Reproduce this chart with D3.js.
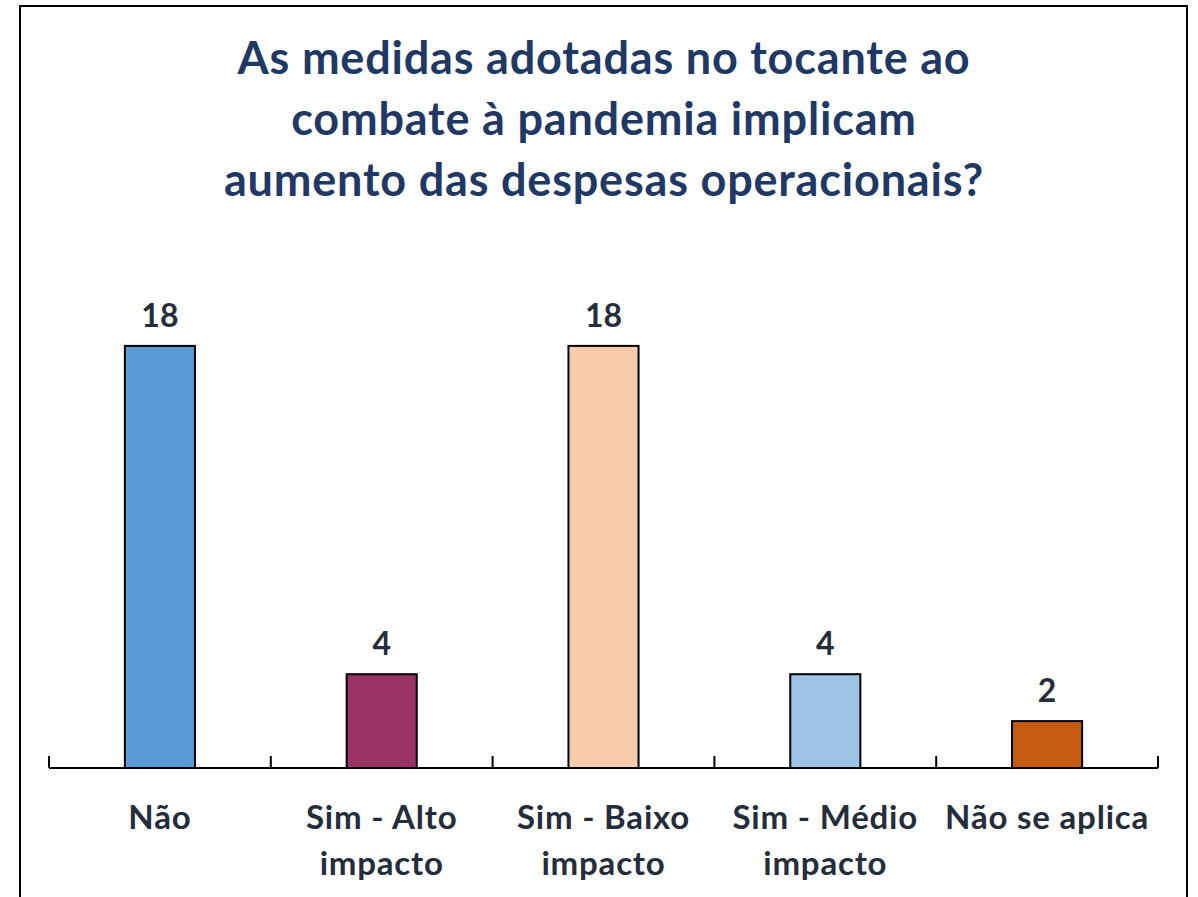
<!DOCTYPE html>
<html>
<meta charset="utf-8">
  <head>
    <script src="https://d3js.org/d3.v7.min.js"></script>
    <style>
      body { margin: 0; background: #fff; }
      text { font-family: Lato, "Open Sans", sans-serif; font-weight: bold; }
    </style>
  </head>
  <body>
    <div id="my_dataviz"></div>
    <script>

    // data
    var titleLines = ["As medidas adotadas no tocante ao",
                      "combate à pandemia implicam",
                      "aumento das despesas operacionais?"];
    var categories = ["Não", "Sim - Alto impacto", "Sim - Baixo impacto", "Sim - Médio impacto", "Não se aplica"];
    var values = [18, 4, 18, 4, 2];
    var colors = ["#5b9bd5", "#993366", "#f8cbad", "#9dc3e6", "#c55a11"];

    // dimensions
    var W = 1198, H = 897;
    var axisY = 768, left = 49, right = 1158;

    var svg = d3.select("#my_dataviz")
      .append("svg")
        .attr("width", W)
        .attr("height", H);

    // chart border (bottom edge is cut off in the original)
    svg.append("rect")
        .attr("x", 20).attr("y", 6)
        .attr("width", 1167).attr("height", 940)
        .attr("fill", "none")
        .attr("stroke", "#000")
        .attr("stroke-width", 2);

    // title
    svg.append("text")
        .attr("text-anchor", "middle")
        .style("font-size", "45px")
        .style("letter-spacing", "0.8px")
        .style("fill", "#1f3864")
      .selectAll("tspan")
      .data(titleLines)
      .enter()
      .append("tspan")
        .attr("x", 604)
        .attr("y", function(d, i) { return 74 + i * 61; })
        .text(function(d) { return d; });

    // scales
    var x = d3.scaleBand()
        .domain(categories)
        .range([left, right])
        .padding(0);

    var y = d3.scaleLinear()
        .domain([0, 20])
        .range([axisY, axisY - 469]);

    var barW = x.bandwidth() * 0.316;

    // bars
    svg.selectAll("rect.bar")
        .data(values)
        .enter()
        .append("rect")
          .attr("class", "bar")
          .attr("x", function(d, i) { return x(categories[i]) + (x.bandwidth() - barW) / 2; })
          .attr("y", function(d) { return y(d); })
          .attr("width", barW)
          .attr("height", function(d) { return y(0) - y(d); })
          .attr("fill", function(d, i) { return colors[i]; })
          .attr("stroke", "#000")
          .attr("stroke-width", 2);

    // value labels
    svg.selectAll("text.val")
        .data(values)
        .enter()
        .append("text")
          .attr("class", "val")
          .attr("x", function(d, i) { return x(categories[i]) + x.bandwidth() / 2; })
          .attr("y", function(d) { return y(d) - 19; })
          .attr("text-anchor", "middle")
          .style("font-size", "32px")
          .style("fill", "#252d3a")
          .text(function(d) { return d; });

    // x axis: line plus ticks at the band edges, pointing up
    var edges = categories.map(function(c) { return x(c); }).concat([right]);
    svg.append("line")
        .attr("x1", left).attr("x2", right)
        .attr("y1", axisY).attr("y2", axisY)
        .attr("stroke", "#000")
        .attr("stroke-width", 2);
    svg.selectAll("line.tick")
        .data(edges)
        .enter()
        .append("line")
          .attr("class", "tick")
          .attr("x1", function(d) { return d; })
          .attr("x2", function(d) { return d; })
          .attr("y1", axisY)
          .attr("y2", axisY - 12)
          .attr("stroke", "#000")
          .attr("stroke-width", 2);

    // category labels, wrapped to the band width
    var lab = svg.selectAll("text.cat")
        .data(categories)
        .enter()
        .append("text")
          .attr("class", "cat")
          .attr("text-anchor", "middle")
          .style("font-size", "33px")
          .style("letter-spacing", "0.8px")
          .style("fill", "#252d3a");

    lab.each(function(c) {
      var t = d3.select(this);
      var cx = x(c) + x.bandwidth() / 2;
      var words = c.split(" "), lines = [], cur = "";
      var probe = t.append("tspan");
      words.forEach(function(w) {
        var test = cur ? cur + " " + w : w;
        probe.text(test);
        if (probe.node().getComputedTextLength() > x.bandwidth() - 6 && cur) {
          lines.push(cur);
          cur = w;
        } else {
          cur = test;
        }
      });
      lines.push(cur);
      probe.remove();
      lines.forEach(function(l, i) {
        t.append("tspan")
          .attr("x", cx)
          .attr("y", 829 + i * 46)
          .text(l);
      });
    });

    </script>
  </body>
</html>
